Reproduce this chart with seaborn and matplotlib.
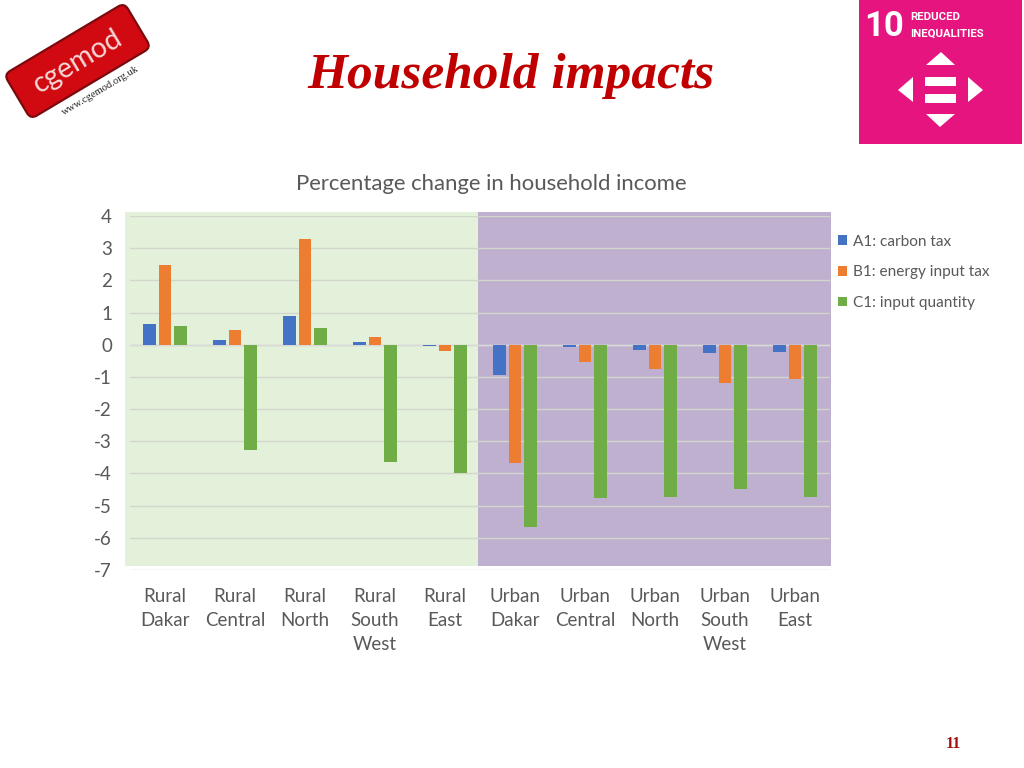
import matplotlib
matplotlib.use("Agg")
import matplotlib.pyplot as plt
import pandas as pd
import seaborn as sns
from matplotlib.patches import FancyBboxPatch, Polygon, Rectangle
from matplotlib.transforms import Affine2D

regions = ["Rural\nDakar", "Rural\nCentral", "Rural\nNorth", "Rural\nSouth\nWest", "Rural\nEast",
           "Urban\nDakar", "Urban\nCentral", "Urban\nNorth", "Urban\nSouth\nWest", "Urban\nEast"]
a1_carbon = [0.65, 0.15, 0.88, 0.10, -0.03, -0.95, -0.08, -0.15, -0.27, -0.22]
b1_energy = [2.48, 0.46, 3.30, 0.25, -0.20, -3.68, -0.55, -0.75, -1.18, -1.07]
c1_quantity = [0.57, -3.27, 0.52, -3.65, -3.98, -5.65, -4.75, -4.72, -4.47, -4.72]
series_names = ["A1: carbon tax", "B1: energy input tax", "C1: input quantity"]
colors = ["#4472C4", "#ED7D31", "#70AD47"]
yticks = [4, 3, 2, 1, 0, -1, -2, -3, -4, -5, -6, -7]

sns.set_theme(style="white")
plt.rcParams["font.family"] = ["Lato", "DejaVu Sans"]
plt.rcParams["axes.unicode_minus"] = False
W, H = 1024, 768
fig = plt.figure(figsize=(W / 100, H / 100), dpi=100, facecolor="white")

# pixel-coordinate backdrop
bg = fig.add_axes([0, 0, 1, 1], zorder=0)
bg.set_xlim(0, W); bg.set_ylim(H, 0); bg.axis("off")
bg.add_patch(Rectangle((125, 212), 353, 354, fc="#E3F1DA", ec="none"))
bg.add_patch(Rectangle((478, 212), 353, 354, fc="#BFB0D0", ec="none"))

# chart
ax = fig.add_axes([130 / W, 1 - 570 / H, 700 / W, 354 / H], zorder=1)
ax.patch.set_alpha(0)
df = pd.DataFrame({"region": regions * 3,
                   "value": a1_carbon + b1_energy + c1_quantity,
                   "series": [s for s in series_names for _ in regions]})
sns.barplot(data=df, x="region", y="value", hue="series", hue_order=series_names,
            palette=colors, width=0.665, gap=0.2, saturation=1, ax=ax, zorder=3, legend=True,
            edgecolor="none", linewidth=0)
ax.set_ylim(-7, 4)
ax.set_xlim(-0.5, 9.5)
ax.set_yticks(yticks)
ax.set_xlabel(""); ax.set_ylabel("")
ax.grid(axis="y", color="#D2D7CC", lw=1, zorder=1)
ax.grid(axis="x", visible=False)
ax.axhline(0, color="#D9D9D9", lw=1, zorder=2)
for s in ax.spines.values():
    s.set_visible(False)
ax.tick_params(axis="both", length=0, labelsize=13.5, labelcolor="#595959")
ax.tick_params(axis="y", pad=13)
ax.tick_params(axis="x", pad=13)
for lab in ax.get_xticklabels():
    lab.set_linespacing(1.5)
ax.legend(loc="upper left", bbox_to_anchor=(838 / W, 1 - 234.5 / H), bbox_transform=fig.transFigure,
          frameon=False, fontsize=11.1, labelcolor="#595959", handlelength=0.58, handleheight=0.58,
          handletextpad=0.4, labelspacing=1.08, borderpad=0, borderaxespad=0)
fig.text(491 / W, 1 - 184.5 / H, "Percentage change in household income", ha="center", va="center",
         fontsize=15.9, color="#595959")

# slide furniture
top = fig.add_axes([0, 0, 1, 1], zorder=2)
top.set_xlim(0, W); top.set_ylim(H, 0); top.axis("off"); top.patch.set_alpha(0)
top.text(511, 76, "Household impacts", ha="center", va="center", fontsize=37, color="#C00000",
         family=["Liberation Serif"], weight="bold", style="italic")
top.text(953.5, 744, "11", ha="center", va="center", fontsize=11.5, color="#A01010",
         family=["Liberation Serif"], weight="bold")

# logo
cx, cy, ang = 77.5, 61, -30.8
rot = Affine2D().rotate_deg_around(cx, cy, ang) + top.transData
top.add_patch(FancyBboxPatch((cx - 63, cy - 19), 126, 38, boxstyle="round,pad=7,rounding_size=7",
                             fc="#D00A10", ec="#7A0A0E", lw=1.6, transform=rot))
top.text(78, 61, "cgemod", rotation=30.8, rotation_mode="anchor", ha="center", va="center",
         fontsize=20.5, color="#F6D8D8", family=["Lato"])
top.text(100, 91, "www.cgemod.org.uk", rotation=30.8, rotation_mode="anchor", ha="center", va="center",
         fontsize=7.6, color="#222222", family=["Liberation Serif"])

# SDG icon
pink = "#E5147F"
top.add_patch(Rectangle((859, 0), 163, 144, fc=pink, ec="none"))
top.text(884, 27, "10", ha="center", va="center", fontsize=25, color="white",
         family=["Roboto"], weight="bold")
top.text(910, 17.5, "REDUCED", ha="left", va="center", fontsize=8.2, color="white",
         family=["Roboto"], weight="bold")
top.text(910, 34, "INEQUALITIES", ha="left", va="center", fontsize=8.2, color="white",
         family=["Roboto"], weight="bold")
for pts in ([(926, 65), (955, 65), (941, 52)], [(926, 114), (955, 114), (940, 127)],
            [(913, 77), (913, 102), (898, 90)], [(968, 77), (968, 102), (983, 90)]):
    top.add_patch(Polygon(pts, closed=True, fc="white", ec="none"))
top.add_patch(Rectangle((925, 77), 31, 9, fc="white", ec="none"))
top.add_patch(Rectangle((925, 94), 31, 9, fc="white", ec="none"))

fig.savefig("out.png", dpi=100)
